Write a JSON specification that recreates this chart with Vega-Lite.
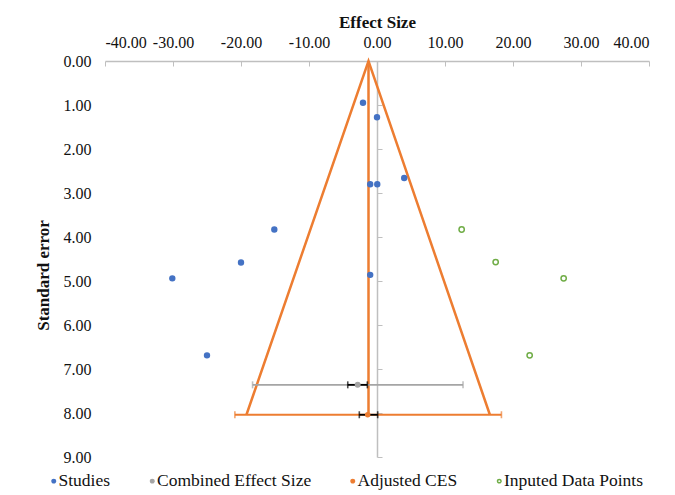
{
  "$schema": "https://vega.github.io/schema/vega-lite/v6.json",
  "width": 544,
  "height": 396,
  "autosize": {"type": "none"},
  "padding": {"left": 105, "top": 61, "right": 26, "bottom": 38},
  "background": "white",
  "config": {
    "view": {"stroke": null},
    "font": "Liberation Serif",
    "axis": {"grid": false, "labelFont": "Liberation Serif", "titleFont": "Liberation Serif", "labelColor": "#111111", "titleColor": "#111111", "domainColor": "#BFBFBF", "tickColor": "#BFBFBF"},
    "legend": {"labelFont": "Liberation Serif", "labelFontSize": 17.5, "labelColor": "#111111"}
  },
  "datasets": {
    "funnel": [
      {"es": -19.2, "se": 8.04},
      {"es": -1.25, "se": 0},
      {"es": 16.6, "se": 8.04}
    ],
    "center": [
      {"es": -1.25, "lo": 0, "hi": 8.04}
    ],
    "rules": [
      {"kind": "ces", "se": 7.36, "lo": -18.3, "hi": 12.65},
      {"kind": "adj", "se": 8.04, "lo": -20.9, "hi": 18.3},
      {"kind": "err", "se": 7.36, "lo": -4.3, "hi": -1.42},
      {"kind": "err", "se": 8.04, "lo": -2.6, "hi": 0.1}
    ],
    "caps": [
      {"kind": "ces", "es": -18.3, "se": 7.36},
      {"kind": "ces", "es": 12.65, "se": 7.36},
      {"kind": "adj", "es": -20.9, "se": 8.04},
      {"kind": "adj", "es": 18.3, "se": 8.04},
      {"kind": "err", "es": -4.3, "se": 7.36},
      {"kind": "err", "es": -1.42, "se": 7.36},
      {"kind": "err", "es": -2.6, "se": 8.04},
      {"kind": "err", "es": 0.1, "se": 8.04}
    ],
    "points": [
      {"series": "Studies", "es": -2.06, "se": 0.95},
      {"series": "Studies", "es": 0.0, "se": 1.28},
      {"series": "Studies", "es": -1.0, "se": 2.8},
      {"series": "Studies", "es": 0.04, "se": 2.8},
      {"series": "Studies", "es": 4.0, "se": 2.66},
      {"series": "Studies", "es": -15.1, "se": 3.83},
      {"series": "Studies", "es": -20.0, "se": 4.58},
      {"series": "Studies", "es": -30.1, "se": 4.94},
      {"series": "Studies", "es": -1.0, "se": 4.86},
      {"series": "Studies", "es": -25.0, "se": 6.69},
      {"series": "Combined Effect Size", "es": -2.84, "se": 7.36},
      {"series": "Adjusted CES", "es": -1.37, "se": 8.04},
      {"series": "Inputed Data Points", "es": 12.45, "se": 3.83},
      {"series": "Inputed Data Points", "es": 17.45, "se": 4.57},
      {"series": "Inputed Data Points", "es": 27.45, "se": 4.94},
      {"series": "Inputed Data Points", "es": 22.45, "se": 6.69}
    ]
  },
  "layer": [
    {
      "data": {"name": "funnel"},
      "mark": {"type": "line", "color": "#ED7D31", "strokeWidth": 2.5},
      "encoding": {
        "x": {"field": "es", "type": "quantitative", "scale": {"domain": [-40, 40], "nice": false, "zero": false},
          "axis": {"orient": "top", "title": "Effect Size", "labelExpr": "replace(format(datum.value, '.2f'), '\u2212', '-')", "values": [-40, -30, -20, -10, 0, 10, 20, 30, 40], "tickSize": 0, "domain": false, "labelPadding": 11, "labelFontSize": 16, "titleFontSize": 17, "titleFontWeight": "bold", "titlePadding": 3}},
        "y": {"field": "se", "type": "quantitative", "scale": {"domain": [0, 9], "reverse": true, "nice": false, "zero": false},
          "axis": {"orient": "left", "title": "Standard error", "format": ".2f", "values": [0, 1, 2, 3, 4, 5, 6, 7, 8, 9], "tickSize": 0, "domain": false, "labelPadding": 14, "labelFontSize": 16, "titleFontSize": 17, "titleFontWeight": "bold", "titleX": -62, "titleY": 214, "titleBaseline": "middle"}}
      }
    },
    {
      "data": {"name": "center"},
      "mark": {"type": "rule", "color": "#ED7D31", "strokeWidth": 2.5},
      "encoding": {
        "x": {"field": "es", "type": "quantitative", "scale": {"domain": [-40, 40], "nice": false, "zero": false},
          "axis": {"orient": "bottom", "offset": -396, "title": null, "labels": false, "values": [-40, -30, -20, -10, 0, 10, 20, 30, 40], "tickSize": 5, "domainWidth": 1.5}},
        "y": {"field": "lo", "type": "quantitative", "scale": {"domain": [0, 9], "reverse": true, "nice": false, "zero": false},
          "axis": {"orient": "right", "offset": -272, "title": null, "labels": false, "values": [0, 1, 2, 3, 4, 5, 6, 7, 8, 9], "tickSize": 5, "domainWidth": 1.5}},
        "y2": {"field": "hi"}
      }
    },
    {
      "data": {"name": "rules"},
      "mark": {"type": "rule", "strokeWidth": 1.8},
      "encoding": {
        "x": {"field": "lo", "type": "quantitative", "axis": null},
        "x2": {"field": "hi"},
        "y": {"field": "se", "type": "quantitative", "axis": null},
        "color": {"field": "kind", "type": "nominal", "scale": {"domain": ["ces", "adj", "err"], "range": ["#A5A5A5", "#ED7D31", "#000000"]}, "legend": null}
      }
    },
    {
      "data": {"name": "caps"},
      "mark": {"type": "tick", "orient": "vertical", "size": 7, "thickness": 1.6},
      "encoding": {
        "x": {"field": "es", "type": "quantitative", "axis": null},
        "y": {"field": "se", "type": "quantitative", "axis": null},
        "color": {"field": "kind", "type": "nominal", "scale": {"domain": ["ces", "adj", "err"], "range": ["#A5A5A5", "#ED7D31", "#000000"]}, "legend": null}
      }
    },
    {
      "data": {"name": "points"},
      "mark": {"type": "point", "shape": "circle", "opacity": 1, "strokeWidth": 1.5},
      "encoding": {
        "x": {"field": "es", "type": "quantitative", "axis": null},
        "y": {"field": "se", "type": "quantitative", "axis": null},
        "fill": {"field": "series", "type": "nominal",
          "scale": {"domain": ["Studies", "Combined Effect Size", "Adjusted CES", "Inputed Data Points"], "range": ["#4472C4", "#A5A5A5", "#ED7D31", "#FFFFFF"]},
          "legend": {"orient": "none", "legendX": -60, "legendY": 411, "direction": "horizontal", "title": null, "symbolSize": 12, "symbolStrokeWidth": 1.5, "symbolType": "circle", "columnPadding": 32.5, "labelOffset": -4, "padding": 0}},
        "stroke": {"field": "series", "type": "nominal",
          "scale": {"domain": ["Studies", "Combined Effect Size", "Adjusted CES", "Inputed Data Points"], "range": ["#4472C4", "#A5A5A5", "#ED7D31", "#70AD47"]},
          "legend": {"orient": "none", "legendX": -60, "legendY": 411, "direction": "horizontal", "title": null, "symbolSize": 12, "symbolStrokeWidth": 1.5, "symbolType": "circle", "columnPadding": 32.5, "labelOffset": -4, "padding": 0}},
        "size": {"field": "series", "type": "nominal",
          "scale": {"domain": ["Inputed Data Points", "Studies", "Combined Effect Size", "Adjusted CES"], "range": [28, 16, 34, 34]}, "legend": null}
      }
    }
  ],
  "resolve": {"axis": {"x": "independent", "y": "independent"}}
}
